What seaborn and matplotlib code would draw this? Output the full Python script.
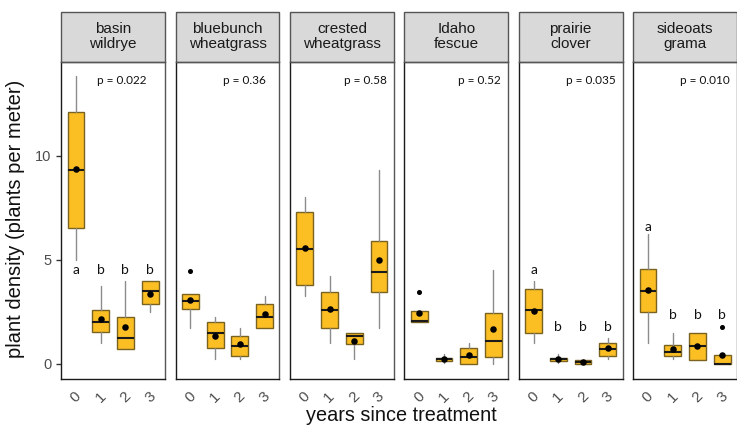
import pandas as pd
import matplotlib
matplotlib.use('Agg')
import matplotlib.pyplot as plt
from matplotlib.patches import Rectangle
import seaborn as sns

# ------------------------------------------------------------
# data
# ------------------------------------------------------------
species = ['basin\nwildrye', 'bluebunch\nwheatgrass', 'crested\nwheatgrass',
           'Idaho\nfescue', 'prairie\nclover', 'sideoats\ngrama']
years = [0, 1, 2, 3]

whislo = [[5.0, 1.0, 0.7, 2.5],
          [1.72, 0.23, 0.23, 1.72],
          [3.27, 1.0, 0.24, 1.72],
          [1.99, 0.03, 0.0, 0.0],
          [1.0, 0.03, 0.0, 0.23],
          [1.0, 0.23, 0.19, 0.0]]
q1 = [[6.5, 1.52, 0.7, 2.87],
      [2.64, 0.77, 0.4, 1.72],
      [3.8, 1.72, 0.96, 3.43],
      [1.99, 0.16, 0.0, 0.32],
      [1.5, 0.15, 0.0, 0.4],
      [2.48, 0.38, 0.19, 0.0]]
med = [[9.3, 2.0, 1.23, 3.48],
       [3.03, 1.5, 0.88, 2.24],
       [5.5, 2.6, 1.36, 4.39],
       [2.08, 0.23, 0.35, 1.1],
       [2.6, 0.23, 0.08, 0.72],
       [3.51, 0.59, 0.87, 0.0]]
q3 = [[12.1, 2.6, 2.27, 3.96],
      [3.37, 2.0, 1.35, 2.87],
      [7.27, 3.46, 1.5, 5.9],
      [2.53, 0.3, 0.78, 2.44],
      [3.59, 0.3, 0.19, 1.0],
      [4.55, 0.91, 1.5, 0.42]]
whishi = [[13.8, 3.75, 3.96, 3.96],
          [3.37, 2.23, 1.72, 3.24],
          [8.0, 4.23, 1.5, 9.3],
          [2.53, 0.47, 1.0, 4.49],
          [3.99, 0.47, 0.19, 1.23],
          [6.23, 1.5, 1.5, 0.42]]
means = [[9.37, 2.16, 1.79, 3.37],
         [3.05, 1.36, 0.93, 2.37],
         [5.58, 2.62, 1.09, 4.97],
         [2.44, 0.23, 0.43, 1.67],
         [2.53, 0.23, 0.08, 0.75],
         [3.56, 0.72, 0.87, 0.42]]
outliers = [[[], [], [], []],
            [[4.47], [], [], []],
            [[], [], [], []],
            [[3.46], [], [], []],
            [[], [], [], []],
            [[], [], [], [1.75]]]

p_labels = ['p = 0.022', 'p = 0.36', 'p = 0.58', 'p = 0.52', 'p = 0.035', 'p = 0.010']
letters = [['a', 'b', 'b', 'b'], [], [], [],
           ['a', 'b', 'b', 'b'], ['a', 'b', 'b', 'b']]
letter_y = [[4.5, 4.5, 4.5, 4.5], [], [], [],
            [4.52, 1.76, 1.76, 1.76], [6.57, 2.36, 2.36, 2.36]]

# long table for the facet grid
rows = []
for i, sp in enumerate(species):
    for j, yr in enumerate(years):
        rows.append({'species': sp, 'year': yr, 'whislo': whislo[i][j], 'q1': q1[i][j],
                     'med': med[i][j], 'q3': q3[i][j], 'whishi': whishi[i][j],
                     'mean': means[i][j], 'fliers': outliers[i][j]})
df = pd.DataFrame(rows)

# ------------------------------------------------------------
# styling
# ------------------------------------------------------------
FILL = '#FBBF24'
EDGE = '#7A6220'
WHISK = '#8C8C8C'
STRIP = '#D9D9D9'

sns.set_style('white')
plt.rcParams['font.family'] = ['Liberation Sans', 'DejaVu Sans']


def draw_boxes(data, **kws):
    ax = plt.gca()
    stats = []
    for _, r in data.sort_values('year').iterrows():
        stats.append({'whislo': r['whislo'], 'q1': r['q1'], 'med': r['med'],
                      'q3': r['q3'], 'whishi': r['whishi'], 'fliers': r['fliers']})
    ax.bxp(stats, positions=sorted(data['year']), widths=0.68, patch_artist=True,
           showcaps=False, manage_ticks=False,
           boxprops=dict(facecolor=FILL, edgecolor=EDGE, linewidth=1),
           medianprops=dict(color='#1a1a1a', linewidth=1.5),
           whiskerprops=dict(color=WHISK, linewidth=1),
           flierprops=dict(marker='o', markersize=2.6, markerfacecolor='black',
                           markeredgecolor='black'),
           zorder=2)


g = sns.FacetGrid(df, col='species', col_order=species, sharey=True,
                  height=4.3, aspect=0.3, despine=False)
g.map_dataframe(draw_boxes)
g.map_dataframe(sns.scatterplot, x='year', y='mean', color='black', s=22,
                edgecolor='black', linewidth=0, zorder=4)

g.figure.set_size_inches(7.37, 4.30)
g.figure.subplots_adjust(left=0.083, right=1.0, top=0.856, bottom=0.119, wspace=0.102)

for i, ax in enumerate(g.axes.flat):
    ax.set_title('')
    ax.set_xlim(-0.6, 3.6)
    ax.set_ylim(-0.72, 14.5)
    ax.set_xticks(years)
    ax.set_xticklabels([str(y) for y in years], rotation=45, fontsize=11, color='#4D4D4D')
    ax.set_yticks([0, 5, 10])
    ax.tick_params(axis='x', length=3.5, width=1, color='#333333', pad=4)
    ax.tick_params(axis='y', length=3.5, width=1, color='#333333', labelsize=10.5,
                   labelcolor='#4D4D4D', left=(i == 0), labelleft=(i == 0))
    ax.set_xlabel('')
    ax.set_ylabel('')
    for side in ['top', 'right']:
        ax.spines[side].set_color('#555555')
    for side in ['left', 'bottom']:
        ax.spines[side].set_color('#1a1a1a')
    for side in ax.spines:
        ax.spines[side].set_linewidth(1)

    # facet strip
    ax.add_patch(Rectangle((0, 1), 1, 0.158, transform=ax.transAxes,
                           facecolor=STRIP, edgecolor='#555555', linewidth=1,
                           clip_on=False))
    ax.text(0.5, 1.079, species[i], transform=ax.transAxes, ha='center', va='center',
            fontsize=11, color='#1a1a1a', linespacing=1.1)

    # p value and letters
    ax.text(0.93, 0.94, p_labels[i], transform=ax.transAxes, ha='right', va='center',
            fontsize=8.5, family=['Lato', 'DejaVu Sans'], color='#111111')
    for lt, yr, ly in zip(letters[i], years, letter_y[i]):
        ax.text(yr, ly, lt, ha='center', va='center', fontsize=10,
                family=['Lato', 'DejaVu Sans'], color='#111111')

g.axes.flat[0].texts[1].set_x(0.82)
g.axes.flat[1].texts[1].set_x(0.87)

g.figure.text(0.008, 0.49, 'plant density (plants per meter)', rotation=90,
              ha='left', va='center', fontsize=14.5, color='#111111')
g.figure.text(0.545, 0.034, 'years since treatment', ha='center', va='center',
              fontsize=14.3, color='#111111')

plt.savefig('out.png', dpi=100)
